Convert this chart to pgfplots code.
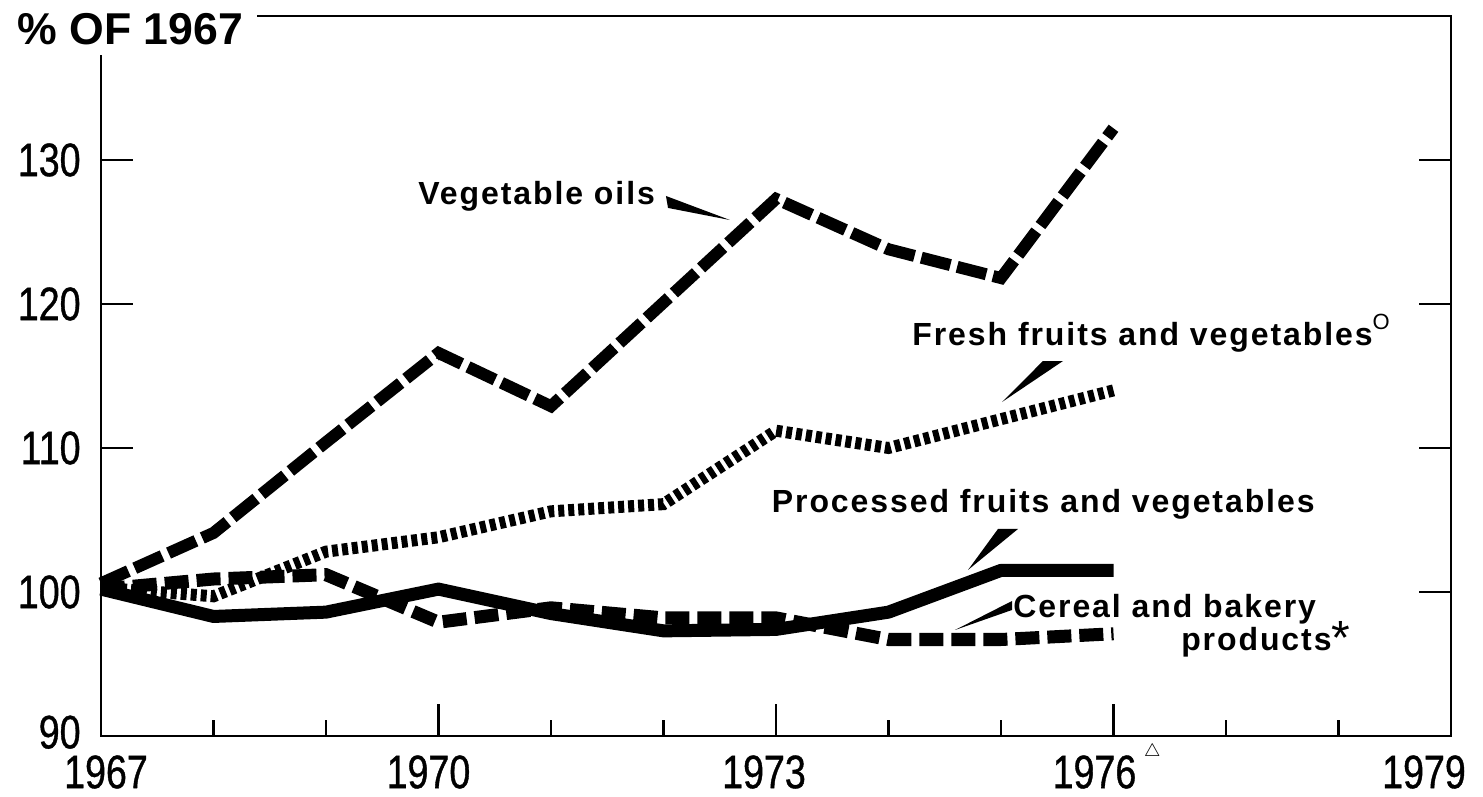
\documentclass[border=0pt]{standalone}
\usepackage{fontspec}
\setmainfont{Liberation Sans}
\newfontfamily\condfont[FakeStretch=0.8,FakeBold=0.8]{Liberation Sans}
\newfontfamily\lblfont[LetterSpace=6]{Liberation Sans}
\usepackage{pgfplots}
\pgfplotsset{compat=1.18}

\pgfplotstableread{
year oils fresh processed cereal
1967 100.6 100.3 100.2 100.2
1968 104.1 99.7  98.3  100.9
1969 110.4 102.8 98.6  101.2
1970 116.6 103.8 100.2 97.9
1971 112.9 105.6 98.5  98.9
1972 120.1 106.1 97.3  98.2
1973 127.3 111.2 97.4  98.2
1974 123.8 110.0 98.6  96.7
1975 121.8 112.0 101.5 96.7
1976 132.2 114.0 101.5 97.1
}\datatable

\begin{document}
\begin{tikzpicture}
\begin{axis}[
  scale only axis, width=675pt, height=360pt,
  xmin=1967, xmax=1979, ymin=90, ymax=140,
  axis line style={draw=none},
  clip=false,
  xtick={1967,1970,1973,1976,1979},
  minor xtick={1968,1969,1971,1972,1974,1975,1977,1978},
  xtick pos=left,
  ytick={90,100,110,120,130},
  ytick pos=both, yticklabel pos=left,
  tick align=inside,
  major tick length=16pt, minor tick length=8pt,
  tick style={black, line width=1.1pt},
  /pgf/number format/assume math mode=true,
  yticklabels={{\raisebox{4pt}{90}},100,110,120,130},
  xticklabels={{\hspace*{5pt}1967},{\hspace*{-10pt}1970},{\hspace*{-12pt}1973},{\hspace*{-19pt}1976\rlap{\smash{\,\raisebox{16pt}{\fontsize{9}{9}\selectfont$\triangle$}}}},{\hspace*{-27pt}1979}},
  yticklabel style={font=\condfont\fontsize{23.5}{23.5}\selectfont, anchor=east, inner sep=0pt, xshift=-10pt},
  xticklabel style={font=\condfont\fontsize{23.5}{23.5}\selectfont, anchor=north, inner sep=0pt, yshift=-9.5pt},
]
% frame with gap at top-left for the title
\draw[black, line width=1.3pt] (axis cs:1967,137.29) -- (axis cs:1967,90) -- (axis cs:1979,90) -- (axis cs:1979,140) -- (axis cs:1968.387,140);

\addplot[black, line width=6.5pt, dash pattern=on 12pt off 4pt] table[x=year, y=cereal] {\datatable};
\addplot[black, line width=6pt, dash pattern=on 3pt off 2pt] table[x=year, y=fresh] {\datatable};
\addplot[black, line width=6.5pt, line join=round] table[x=year, y=processed] {\datatable};
\addplot[black, line width=6pt, dash pattern=on 15pt off 3.5pt, line join=miter] table[x=year, y=oils] {\datatable};

% title
\node[font=\bfseries\fontsize{22.3}{22.3}\selectfont, anchor=base west, inner sep=0pt] at (axis cs:1966.253,137.99) {\% OF 1967};

% annotations
\node[font=\lblfont\bfseries\fontsize{16}{16}\selectfont, anchor=base west, inner sep=0pt] at (axis cs:1969.818,126.875) {Vegetable oils};
\fill[black] (axis cs:1972.022,127.5) -- (axis cs:1972.04,126.67) -- (axis cs:1972.591,125.83) -- cycle;

\node[font=\lblfont\bfseries\fontsize{16}{16}\selectfont, anchor=base west, inner sep=0pt] at (axis cs:1974.209,117.15) {Fresh fruits and vegetables\rlap{\raisebox{8pt}{\normalfont\fontsize{11}{11}\selectfont O}}};
\fill[black] (axis cs:1975.009,113.19) -- (axis cs:1975.373,116.04) -- (axis cs:1975.551,116.04) -- cycle;

\node[font=\lblfont\bfseries\fontsize{16}{16}\selectfont, anchor=base west, inner sep=0pt] at (axis cs:1972.96,105.49) {Processed fruits and vegetables};
\fill[black] (axis cs:1974.707,101.53) -- (axis cs:1974.973,104.375) -- (axis cs:1975.151,104.375) -- cycle;

\node[font=\lblfont\bfseries\fontsize{16}{16}\selectfont, anchor=base west, inner sep=0pt] at (axis cs:1975.107,98.26) {Cereal and bakery};
\node[font=\lblfont\bfseries\fontsize{16}{16}\selectfont, anchor=base east, inner sep=0pt] at (axis cs:1977.942,95.97) {products\rlap{\raisebox{-2pt}{\normalfont\fontsize{24}{24}\selectfont *}}};
\fill[black] (axis cs:1974.591,97.36) -- (axis cs:1975.098,99.375) -- (axis cs:1975.098,98.75) -- cycle;

\coordinate (BL) at (axis cs:1966.1022,85.764);
\coordinate (TR) at (axis cs:1979.2844,141.111);
\end{axis}
\pgfresetboundingbox
\useasboundingbox (BL) rectangle (TR);
\end{tikzpicture}
\end{document}
